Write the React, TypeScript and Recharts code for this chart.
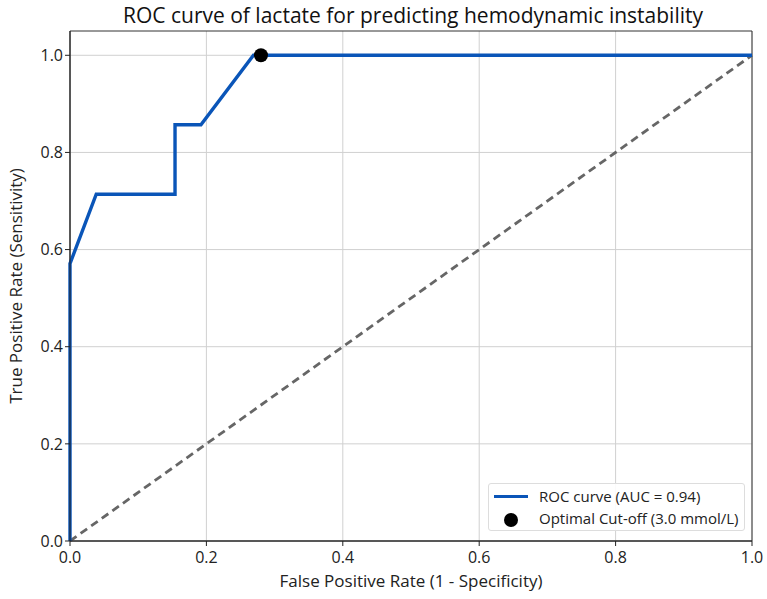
import React from "react";
import {
    ComposedChart, Line, Scatter, XAxis, YAxis, CartesianGrid, Legend, ReferenceArea
} from 'recharts';

// ROC curve steps (false positive rate, true positive rate)
const fprValues = [0, 0, 0.0385, 0.154, 0.154, 0.192, 0.269, 1.0];
const tprValues = [0, 0.571, 0.714, 0.714, 0.857, 0.857, 1.0, 1.0];
const chanceLine = [0, 1];
const cutoffPoint = { fpr: 0.28, tpr: 1.0 };
const ticks = [0, 0.2, 0.4, 0.6, 0.8, 1.0];

const rocData = fprValues.map((x, i) => ({ x, roc: tprValues[i] }));
const diagData = chanceLine.map(v => ({ x: v, diag: v }));
const cutoffData = [{ x: cutoffPoint.fpr, y: cutoffPoint.tpr }];

const font = "'Open Sans', Roboto, sans-serif";
const fmt = (v: number) => v.toFixed(1);

function LegendBox() {
    return <div style={{
        position: 'absolute', left: 488, top: 483, width: 257, height: 48,
        border: '1px solid #ddd', borderRadius: 3, background: 'rgba(255,255,255,0.9)',
        fontFamily: font, fontSize: 15, color: '#222', boxSizing: 'border-box'
    }}>
        <div style={{ position: 'absolute', left: 5, top: 2, display: 'flex', alignItems: 'center' }}>
            <span style={{ display: 'inline-block', width: 34, height: 3, background: '#0a55b8', marginRight: 11 }} />
            <span>ROC curve (AUC = 0.94)</span>
        </div>
        <div style={{ position: 'absolute', left: 5, top: 24, display: 'flex', alignItems: 'center' }}>
            <span style={{ display: 'inline-block', width: 34, textAlign: 'center', marginRight: 11 }}>
                <span style={{ display: 'inline-block', width: 14, height: 14, borderRadius: 7, background: '#000', verticalAlign: 'middle' }} />
            </span>
            <span>Optimal Cut-off (3.0 mmol/L)</span>
        </div>
    </div>
}

export default function App() {
    return <div style={{ position: 'absolute', left: 0, top: 0, width: 767, height: 599, background: '#fff' }}>
        <div style={{
            position: 'absolute', left: 0, top: 1, width: 826, textAlign: 'center',
            fontFamily: font, fontSize: 21, color: '#111'
        }}>ROC curve of lactate for predicting hemodynamic instability</div>
        <ComposedChart
            width={767}
            height={599}
            margin={{ top: 31, right: 15, left: 0, bottom: 0 }}
            style={{ fontFamily: font }}
        >
            <CartesianGrid stroke="#d0d0d0" vertical horizontal
                verticalValues={ticks} horizontalValues={ticks} />
            <XAxis dataKey="x" type="number" domain={[0, 1]} ticks={ticks} tickFormatter={fmt}
                allowDuplicatedCategory={false} height={58} stroke="#222" tickSize={5}
                tick={{ fill: '#222', fontSize: 16, dy: 4 }}
                label={{ value: 'False Positive Rate (1 - Specificity)', position: 'insideBottom', offset: 12, fill: '#222', fontSize: 17 }} />
            <YAxis type="number" domain={[0, 1.05]} ticks={ticks} tickFormatter={fmt} width={70}
                stroke="#222" tickSize={5} tick={{ fill: '#222', fontSize: 16 }}
                label={{ value: 'True Positive Rate (Sensitivity)', angle: -90, position: 'insideLeft', offset: 16, fill: '#222', fontSize: 17, style: { textAnchor: 'middle' } }} />
            <ReferenceArea x1={0} x2={1} y1={0} y2={1.05} fill="none" stroke="#333" strokeWidth={1} />
            <Line data={diagData} dataKey="diag" type="linear" stroke="#666" strokeWidth={2.8}
                strokeDasharray="8 5" dot={false} isAnimationActive={false} />
            <Line data={rocData} dataKey="roc" type="linear" stroke="#0a55b8" strokeWidth={3.4}
                dot={false} isAnimationActive={false} />
            <Scatter data={cutoffData} dataKey="y" fill="#000" isAnimationActive={false}
                shape={(p: any) => <circle cx={p.cx} cy={p.cy} r={7} fill="#000" />} />
            <Legend content={() => null} />
        </ComposedChart>
        <LegendBox />
    </div>
}
